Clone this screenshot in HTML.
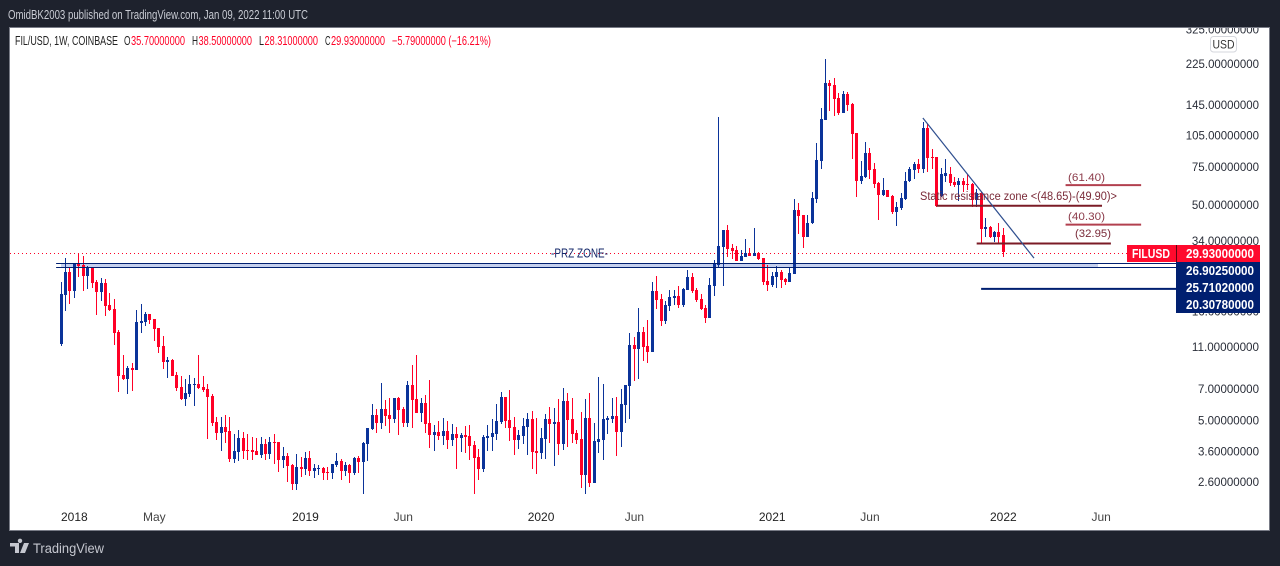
<!DOCTYPE html>
<html lang="en">
<head>
<meta charset="utf-8">
<title>FIL/USD weekly chart</title>
<style>
html,body{margin:0;padding:0;background:#1e222d;width:1280px;height:566px;overflow:hidden}
svg{display:block}
text{font-family:"Liberation Sans",sans-serif}
</style>
</head>
<body>
<svg id="chart" xmlns="http://www.w3.org/2000/svg" width="1280" height="566" viewBox="0 0 1280 566">
  <rect x="0" y="0" width="1280" height="566" fill="#1e222d"/>
  <text x="8" y="19" font-size="12.5" fill="#c9ccd4" textLength="300" lengthAdjust="spacingAndGlyphs">OmidBK2003 published on TradingView.com, Jan 09, 2022 11:00 UTC</text>
  <rect x="9.5" y="27.5" width="1260" height="503" fill="#ffffff" stroke="#787b86" stroke-width="1"/>
  <defs>
    <clipPath id="paneClip"><rect x="10" y="28" width="1259" height="502"/></clipPath>
  </defs>
  <g id="yAxis" clip-path="url(#paneClip)"></g>
  <g id="xAxis"></g>
  <g id="zoneFill"></g>
  <g id="priceLine"></g>
  <g id="candles"></g>
  <g id="overlays"></g>

  <g font-size="12.5">
    <text x="15" y="45" fill="#222" textLength="103" lengthAdjust="spacingAndGlyphs">FIL/USD, 1W, COINBASE</text>
    <text x="124" y="45" fill="#222" textLength="6.5" lengthAdjust="spacingAndGlyphs">O</text>
    <text x="131" y="45" fill="#ff0026" textLength="54" lengthAdjust="spacingAndGlyphs">35.70000000</text>
    <text x="192" y="45" fill="#222" textLength="6" lengthAdjust="spacingAndGlyphs">H</text>
    <text x="198.500" y="45" fill="#ff0026" textLength="53.500" lengthAdjust="spacingAndGlyphs">38.50000000</text>
    <text x="259" y="45" fill="#222" textLength="5" lengthAdjust="spacingAndGlyphs">L</text>
    <text x="264.500" y="45" fill="#ff0026" textLength="53.500" lengthAdjust="spacingAndGlyphs">28.31000000</text>
    <text x="325" y="45" fill="#222" textLength="5.500" lengthAdjust="spacingAndGlyphs">C</text>
    <text x="331" y="45" fill="#ff0026" textLength="54" lengthAdjust="spacingAndGlyphs">29.93000000</text>
    <text x="392" y="45" fill="#ff0026" textLength="99" lengthAdjust="spacingAndGlyphs">−5.79000000 (−16.21%)</text>
  </g>

  <g font-size="11">
    <text x="551" y="257.500" font-size="13" fill="#14286a" textLength="57" lengthAdjust="spacingAndGlyphs">-PRZ ZONE-</text>
    <text x="1068" y="181" fill="#8c3b4a" textLength="37" lengthAdjust="spacingAndGlyphs">(61.40)</text>
    <text x="920" y="200" font-size="11.5" fill="#7a2a38" textLength="197" lengthAdjust="spacingAndGlyphs">Static resistance zone &lt;(48.65)-(49.90)&gt;</text>
    <text x="1068" y="220" fill="#8c3b4a" textLength="37" lengthAdjust="spacingAndGlyphs">(40.30)</text>
    <text x="1075" y="237" fill="#7a2a38" textLength="36" lengthAdjust="spacingAndGlyphs">(32.95)</text>
  </g>

  <g>
    <rect x="1210.5" y="36.5" width="26" height="15.5" rx="3" fill="#ffffff" stroke="#d5d7dd"/>
    <text x="1212.5" y="48.5" font-size="12" fill="#333" textLength="22" lengthAdjust="spacingAndGlyphs">USD</text>
  </g>

  <g font-size="12.5" font-weight="bold" fill="#ffffff">
    <rect x="1127" y="245" width="49" height="17" fill="#ff0a2d"/>
    <text x="1132" y="258" textLength="38" lengthAdjust="spacingAndGlyphs">FILUSD</text>
    <rect x="1177" y="245" width="83" height="17" fill="#ff0a2d"/>
    <rect x="1176" y="245" width="1" height="17" fill="#5c0612"/>
    <text x="1186" y="258" textLength="68" lengthAdjust="spacingAndGlyphs">29.93000000</text>
    <rect x="1176" y="262" width="84" height="51" fill="#001f70"/>
    <text x="1186" y="275" textLength="68" lengthAdjust="spacingAndGlyphs">26.90250000</text>
    <text x="1186" y="292" textLength="68" lengthAdjust="spacingAndGlyphs">25.71020000</text>
    <text x="1186" y="309" textLength="68" lengthAdjust="spacingAndGlyphs">20.30780000</text>
  </g>

  <g>
    <path fill="#c5c7cf" d="M10 543h9v10h-4v-6.500h-5z M20 543a2.200 2.200 0 1 1 .01 0z M24 543h5l-4 10h-5z"/>
    <text x="33" y="553" font-size="13.500" fill="#c5c7cf" textLength="71" lengthAdjust="spacingAndGlyphs">TradingView</text>
  </g>
</svg>
<script>
var open = [11.2,18.9,24.2,19.8,26.6,26.1,23.2,25.5,21.7,19.5,
21.5,17.0,16.3,12.75,8.07,7.73,8.69,8.51,14.05,14.2,
15.45,14.65,13.3,11.0,9.27,9.47,8.07,7.1,6.24,6.59,
7.25,7.33,7.1,6.95,6.45,4.88,4.34,4.63,4.44,3.29,
3.55,4.12,3.62,3.62,3.59,3.44,3.86,3.47,3.95,3.95,
3.26,3.4,3.09,2.53,3.03,2.96,3.33,2.9,2.96,
2.99,2.87,2.84,3.09,3.22,2.9,3.09,2.84,3.33,3.19,
3.86,4.53,5.26,4.83,5.61,5.26,5.04,6.31,5.61,4.83,
7.25,6.24,5.37,5.98,4.83,4.25,4.39,4.21,4.44,4.03,
4.3,4.12,4.25,4.21,3.82,3.37,2.96,4.12,4.16,4.3,
4.88,6.38,4.99,4.63,4.03,4.21,4.63,5.04,3.59,3.51,
4.07,5.04,4.78,4.88,3.86,6.11,5.04,4.34,4.07,2.78,
5.09,2.55,3.95,4.03,4.99,5.04,5.2,4.39,5.85,7.17,
11.1,10.65,12.75,11.0,10.3,19.8,18.2,14.35,16.8,18.3,
18.7,17.0,20.0,22.9,20.0,18.2,16.5,14.8,20.8,26.1,
31.5,37.9,31.2,30.6,27.2,28.4,29.6,28.7,29.6,28.1,
22,21,22.9,24.2,22.4,21.7,23.7,46.9,44.4,35.1,
40.8,52.7,79.1,122.5,181.8,178,155,132,161.5,146,
106.5,63.9,66.6,86.1,72.6,62.5,55,58,54.4,45.9,
47.9,52.7,63.9,71.8,76.6,72.6,112.7,82.7,82.7,54.4,
67.3,68.8,63.2,61.2,63.9,61.9,61.9,52.2,56.2,38.3,
39.1,35.1,37.1,35.7];

var high = [21.7,28.1,25.5,26.6,29.6,28.7,25.8,25.5,22.2,22.7,
22.4,19.3,18.2,13.0,9.98,8.88,9.17,16.13,17.2,15.8,
15.45,14.65,13.3,12.2,9.77,9.57,8.33,7.98,7.73,8.07,
7.81,9.98,7.98,7.33,6.59,5.15,5.15,5.26,5.15,4.3,
4.49,4.39,4.3,4.16,4.12,4.16,4.07,4.16,4.3,3.95,
3.74,3.51,3.12,3.47,3.37,3.55,3.59,3.12,3.09,
3.03,3.03,3.12,3.51,3.29,3.19,3.12,3.37,3.4,3.95,
4.58,5.92,5.61,7.41,6.18,6.31,6.31,6.38,5.73,7.57,
8.97,9.98,6.31,6.52,7.65,4.73,4.93,5.09,4.93,4.78,
4.63,4.34,4.68,4.73,3.99,3.66,4.25,4.73,5.04,5.92,
6.73,6.38,6.87,5.15,4.49,5.09,5.37,5.49,5.09,4.58,
5.32,5.73,5.67,6.24,7.02,6.66,6.31,4.49,5.43,6.24,
6.66,4.83,7.9,7.33,5.2,6.31,6.38,6.95,7.25,12.6,
12.1,16.5,13.45,14.5,21.7,23.2,19.1,17.8,20.0,20.0,
20.8,20.4,24.7,23.9,20.4,19.1,17.0,22.7,27.5,127,
37.9,40,32.6,31.9,30.6,34.4,31.2,38.7,29.9,28.1,
26.1,24.2,25.8,24.7,22.7,25.5,52.7,50.5,44.4,44.4,
56.8,95.8,139.4,235,187.6,191,163.3,166.8,165,147.5,
106.5,79.1,96.8,91,77.4,63.2,65.9,58,55,51.1,
56.2,70.3,74.2,78.2,80.8,120,117.5,89.9,82.7,73.4,
80.8,74.2,66.6,65.9,65.9,68.8,62.5,58.7,56.8,43,
39.5,37.5,40.8,38.5];

var low = [11.0,16.0,17.2,18.3,22.9,19.8,20.2,20.4,15.3,17.8,
15.1,16.0,11.1,6.73,7.65,6.59,6.8,8.51,12.6,13.6,
13.9,11.6,10.2,8.6,7.81,7.98,6.8,6.18,5.79,6.38,
5.79,6.95,6.73,4.07,4.68,4.03,3.59,3.9,3.19,3.16,
3.22,3.29,3.26,3.26,3.44,3.33,3.26,3.29,3.12,2.87,
2.99,2.58,2.35,2.37,2.72,2.78,2.75,2.69,2.78,
2.63,2.63,2.66,3.03,2.63,2.75,2.55,2.78,2.84,2.27,
3.22,4.49,4.34,4.53,4.68,4.34,4.83,4.25,4.63,4.63,
4.58,5.37,4.88,4.34,3.7,3.59,4.03,3.82,3.66,3.78,
2.96,3.55,3.51,3.26,2.27,2.63,2.87,3.59,3.59,4.03,
4.78,4.58,3.99,3.44,3.66,3.86,3.44,2.96,2.81,3.29,
3.29,3.9,3.06,3.44,3.62,3.74,3.9,3.86,2.42,2.27,
2.45,2.55,3.51,3.26,4.3,4.83,3.4,3.74,4.83,5.04,
7.57,7.73,9.37,9.17,10.3,16.3,13.6,13.9,16.0,17.0,
16.5,16.65,20.0,19.3,17.6,16.13,14.05,14.8,18.7,25.5,
20.8,28.4,27.8,27.2,27.2,28.4,28.7,28.7,27.5,21.0,
19.8,20.6,20.4,20.4,21,21.7,23.7,36.3,31.2,35.1,
40.4,50.5,72.6,122.5,134.8,127.7,129,132,134.8,80.8,
53.8,61.9,65.9,65.2,59.3,42.1,54.4,53.8,44.9,39.5,
46.9,52.2,63.2,65.2,69.5,69.5,70.3,72.6,48.4,53.8,
63.2,60.6,59.9,51.7,56.8,58,48.4,48.4,32.9,35.1,
34.7,33.3,32.9,28.31];

var close = [19.1,24.2,19.8,26.6,25.8,23.2,25.5,21.5,19.5,21.5,
16.8,16.13,12.6,7.98,7.73,8.69,8.51,14.2,14.35,15.45,
14.5,13.15,10.87,9.27,9.47,7.98,7.02,6.24,6.66,7.33,
7.33,7.02,6.87,6.38,4.83,4.34,4.63,4.39,3.29,3.59,
4.12,3.59,3.59,3.55,3.44,3.86,3.47,3.95,3.9,3.26,
3.4,3.06,2.53,3.03,2.96,3.33,2.9,2.99,2.99,
2.84,2.84,3.12,3.22,2.9,3.09,2.84,3.33,3.19,3.9,
4.58,5.26,4.83,5.61,5.2,5.04,6.31,5.55,4.83,7.25,
6.18,5.37,5.98,4.78,4.25,4.39,4.21,4.44,4.03,4.3,
4.12,4.25,4.16,3.78,3.33,2.96,4.16,4.21,4.34,4.93,
6.38,4.93,4.58,4.03,4.25,4.68,5.04,3.55,3.51,4.12,
5.04,4.78,4.88,3.86,6.11,4.99,4.3,4.03,2.78,5.09,
2.55,3.99,4.07,5.04,5.09,5.2,4.39,5.92,7.25,11.1,
10.65,12.75,10.87,10.3,19.8,17.95,14.35,17.0,18.5,18.7,
17.0,20.2,22.9,19.8,17.95,16.3,14.8,21.0,26.6,31.9,
37.9,30.9,30.2,27.2,28.7,29.6,28.7,29.6,27.8,21.7,
21,23.2,24.2,22.2,21.7,23.9,46.9,44,35.1,40.8,
53.3,79.9,123.8,181.8,176,153.3,132,161.5,144.4,105.4,
63.9,67.3,86.1,71.8,61.9,55,58,53.8,45.9,48.4,
53.3,63.9,72.6,76.6,72.6,112.7,81.8,81.8,49,68.8,
69.5,62.5,61.2,63.9,61.2,61.2,52.2,56.2,38.3,39.1,
35.1,37.1,35.1,29.93];

var priceTicks = [325,225,145,105,75,50,34,24,16,11,7,5,3.6,2.6];
var timeTickWeeks = [3,21,55,77,108,129,160,182,212,234];
var timeTickLabels = ["2018","May","2019","Jun","2020","Jun","2021","Jun","2022","Jun"];
var lastPrice = 29.93;
var zoneTop = 26.9025;
var zoneBottom = 25.7102;
var lowerLevel = 20.3078;
var resistancePrices = [61.40,49.30,40.30,32.95];
var resistanceStartWeeks = [226,197,226,206];
var resistanceEndWeeks = [243,234.2,243,236.2];
var resistanceColors = ["#b2404f","#7b1b26","#b2404f","#7b1b26"];
var trendWeeks = [193.9,218.9];
var trendPrices = [125.8,28.2];

var NS = 'http://www.w3.org/2000/svg';
function xAt(w){ return 61 + 4.445 * w; }
function yAt(p){ return 63.5 + 93.7 * Math.log(225 / p); }
function make(tag, attrs, parent){
  var el = document.createElementNS(NS, tag);
  for (var k in attrs) el.setAttribute(k, attrs[k]);
  parent.appendChild(el);
  return el;
}

var yAxisG = document.getElementById('yAxis');
priceTicks.forEach(function(p){
  var s = p.toFixed(8);
  var len = s.length * 6.1;
  var t = make('text', {x: 1259 - len, y: yAt(p) + 4.5, 'font-size': 12, fill: '#2a2e39', textLength: len, lengthAdjust: 'spacingAndGlyphs'}, yAxisG);
  
  
  t.textContent = s;
});

var xAxisG = document.getElementById('xAxis');
timeTickWeeks.forEach(function(w, i){
  var isYear = /^\d+$/.test(timeTickLabels[i]);
  var t = make('text', {x: xAt(w), y: 521, 'font-size': 12, 'text-anchor': 'middle', fill: isYear ? '#222' : '#444'}, xAxisG);
  
  
  t.textContent = timeTickLabels[i];
});

var zoneG = document.getElementById('zoneFill');
var zf = make('rect', {x: xAt(0), y: Math.round(yAt(zoneTop) + 0.3), width: xAt(233.3) - xAt(0), height: Math.round(yAt(zoneBottom) + 0.3) - Math.round(yAt(zoneTop) + 0.3), fill: '#c5d0ee'}, zoneG);



var plG = document.getElementById('priceLine');
var plY = Math.round(yAt(lastPrice) + 0.3) + 0.5;
var pl = make('line', {x1: 10, x2: 1127, y1: plY, y2: plY, stroke: '#ff0026', 'stroke-width': 1, 'stroke-dasharray': '1 3'}, plG);



var candlesG = document.getElementById('candles');
open.forEach(function(o, i){
  var c = close[i];
  var col = c >= o ? '#0b3399' : '#ff0026';
  var px = Math.floor(xAt(i));
  var wt = Math.floor(yAt(high[i]));
  var wb = Math.floor(yAt(low[i]));
  var bt = Math.floor(yAt(Math.max(o, c)));
  var bb = Math.floor(yAt(Math.min(o, c)));
  var wick = make('rect', {x: px, y: wt, width: 1, height: Math.max(1, wb - wt), fill: col}, candlesG);
  
  
  var body = make('rect', {x: px - 1, y: bt, width: 3, height: Math.max(1, bb - bt), fill: col}, candlesG);
  
  
});

var overG = document.getElementById('overlays');
var ztY = Math.round(yAt(zoneTop) + 0.3) + 0.5;
var zbY = Math.round(yAt(zoneBottom) + 0.3) + 0.5;
var zt = make('line', {x1: xAt(-1.1), x2: 1176, y1: ztY, y2: ztY, stroke: '#001f70', 'stroke-width': 1}, overG);


var zb = make('line', {x1: xAt(-1.1), x2: 1176, y1: zbY, y2: zbY, stroke: '#001f70', 'stroke-width': 1}, overG);


var ll = make('line', {x1: xAt(207), x2: 1176, y1: yAt(lowerLevel), y2: yAt(lowerLevel), stroke: '#001f70', 'stroke-width': 2}, overG);


resistancePrices.forEach(function(p, i){
  var r = make('line', {x1: xAt(resistanceStartWeeks[i]), x2: xAt(resistanceEndWeeks[i]), y1: yAt(p), y2: yAt(p), stroke: resistanceColors[i], 'stroke-width': 2}, overG);
  
  
});
var tl = make('line', {x1: xAt(trendWeeks[0]), y1: yAt(trendPrices[0]), x2: xAt(trendWeeks[1]), y2: yAt(trendPrices[1]), stroke: '#2f4f8f', 'stroke-width': 1.2}, overG);


</script>
</body>
</html>
